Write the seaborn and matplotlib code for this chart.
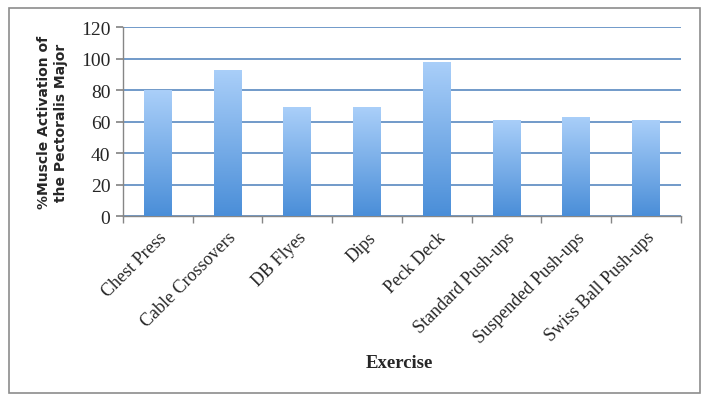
import numpy as np
import pandas as pd
import matplotlib
matplotlib.use("Agg")
import matplotlib.pyplot as plt
import seaborn as sns
from matplotlib.colors import LinearSegmentedColormap
from matplotlib.patches import Rectangle
from matplotlib.transforms import ScaledTranslation

exercises = ["Chest Press", "Cable Crossovers", "DB Flyes", "Dips", "Peck Deck",
             "Standard Push-ups", "Suspended Push-ups", "Swiss Ball Push-ups"]
activation = [80, 93, 69, 69, 98, 61, 63, 61]
yticks = [0, 20, 40, 60, 80, 100, 120]

df = pd.DataFrame({"Exercise": exercises, "Activation": activation})

sns.set_theme(style="white")
plt.rcParams["font.family"] = ["Liberation Serif", "DejaVu Serif"]

fig = plt.figure(figsize=(7.1, 4.02), dpi=100)
ax = fig.add_axes([0.173, 0.460, 0.786, 0.470])

sns.barplot(data=df, x="Exercise", y="Activation", color="#6aa6e8", width=0.4,
            ax=ax, zorder=3, errorbar=None)

# gradient fill clipped to each bar
cmap = LinearSegmentedColormap.from_list("g", ["#4a8ed8", "#aacff9"])
grad = np.linspace(0, 1, 256).reshape(-1, 1)
for p in list(ax.patches):
    x0, y0 = p.get_x(), p.get_y()
    w, h = p.get_width(), p.get_height()
    p.set_facecolor("none")
    p.set_edgecolor("none")
    im = ax.imshow(grad, cmap=cmap, origin="lower", aspect="auto",
                   extent=[x0, x0 + w, y0, y0 + h], zorder=3)
    im.set_clip_path(p)

ax.set_xlim(-0.5, len(exercises) - 0.5)
ax.set_ylim(0, 120)
ax.set_yticks(yticks)
ax.set_yticklabels([str(v) for v in yticks], fontsize=14)
ax.yaxis.grid(True, color="#4a7ebb", linewidth=1.1, zorder=0)
ax.set_axisbelow(True)

ax.set_xticks(np.arange(len(exercises)))
ax.set_xticklabels(exercises, rotation=45, ha="right", rotation_mode="anchor",
                   fontsize=13)
offset = ScaledTranslation(8 / 100, 0, fig.dpi_scale_trans)
for lbl in ax.get_xticklabels():
    lbl.set_transform(lbl.get_transform() + offset)
ax.tick_params(axis="x", length=0, pad=9)
ax.tick_params(axis="y", length=5, color="#868686", direction="out", pad=4, left=True)
ax.set_xticks(np.arange(len(exercises) + 1) - 0.5, minor=True)
ax.tick_params(axis="x", which="minor", length=5, color="#868686", direction="out", bottom=True)

for s in ["top", "right"]:
    ax.spines[s].set_visible(False)
for s in ["left", "bottom"]:
    ax.spines[s].set_color("#868686")
    ax.spines[s].set_linewidth(1.0)

ax.set_ylabel("%Muscle Activation of\nthe Pectoralis Major", fontsize=10,
              fontweight="bold", family=["DejaVu Sans"], labelpad=9, linespacing=1.3)
ax.set_xlabel("")
fig.text(0.563, 0.097, "Exercise", ha="center", va="center", fontsize=13.5,
         fontweight="bold")

fig.patches.append(Rectangle((0.013, 0.02), 0.973, 0.958, transform=fig.transFigure,
                             fill=False, edgecolor="#8c8c8c", linewidth=1.2))

fig.savefig("out.png", dpi=100)
